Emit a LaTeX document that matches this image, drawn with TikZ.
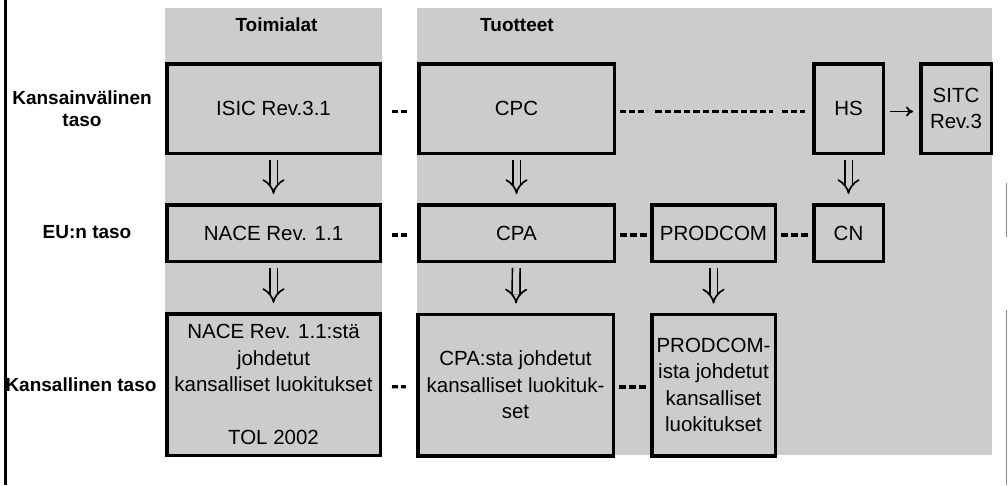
\documentclass[tikz,border=0pt]{standalone}
\usepackage{fontspec}
\setmainfont{Liberation Sans}
\usetikzlibrary{arrows.meta,positioning}

\begin{document}
\begin{tikzpicture}[x=1pt,y=-1pt,
		box/.style={draw,line width=3.5pt,fill=black!20,inner sep=0pt,align=center,font=\fontsize{20.5}{26.5}\selectfont},
		toprow/.style={minimum height=89.5pt},
		midrow/.style={minimum height=56.5pt},
		botrow/.style={minimum height=141.5pt},
		lbl/.style={align=center,font=\bfseries\fontsize{19}{22}\selectfont},
		dashes/.style={line width=3.2pt,dash pattern=on 6pt off 3pt},
		twodash/.style={dashes,shorten <=10pt,shorten >=10pt},
		threedash/.style={dashes,dash pattern=on 7pt off 3pt,shorten <=3.5pt,shorten >=3.5pt},
		dbl/.style={line width=1.7pt,double=black!20,double distance=6pt,-{Implies},shorten <=5pt,shorten >=9pt}]
		\useasboundingbox (0,0) rectangle (1008,485);
		% gray column backgrounds
		\fill[black!20] (165,8) rectangle (382,457);
		\fill[black!20] (417,8) rectangle (992,455);
		\draw[line width=3pt] (5,0) -- (5,485);
		\draw[black!45,line width=1.5pt] (1006.5,183) -- (1006.5,237);
		\draw[black!45,line width=1.5pt] (1006.5,310) -- (1006.5,485);
		% headers and levels
		\node[lbl] (toim) at (276.5,25) {Toimialat};
		\node[lbl] (tuot) at (517,25) {Tuotteet};
		\node[lbl] (intl) at (82,109) {Kansainvälinen\\taso};
		\node[lbl] (eu) at (87,232) {EU:n taso};
		\node[lbl] (natl) at (81,385) {Kansallinen taso};
		% classifications
		\node[box,toprow,minimum width=213.5pt] (isic) at (273.5,108.5) {ISIC Rev.3.1};
		\node[box,midrow,minimum width=213.5pt] (nace) at (273.5,233) {NACE Rev. 1.1};
		\node[box,botrow,minimum width=213.5pt] (tolbox) at (273.5,384.5) {NACE Rev. 1.1:stä\\johdetut\\kansalliset luokitukset\\[26.5pt]TOL 2002};
		\node[box,toprow,minimum width=195.5pt] (cpc) at (516.5,108.5) {CPC};
		\node[box,midrow,minimum width=195.5pt] (cpa) at (516.5,233) {CPA};
		\node[box,botrow,minimum width=195.5pt] (cpanat) at (515.5,385) {CPA:sta johdetut\\kansalliset luokituk-\\set};
		\node[box,midrow,minimum width=123.5pt] (prodcom) at (713.5,233) {PRODCOM};
		\node[box,botrow,minimum width=123.5pt] (prodnat) at (713.5,385) {PRODCOM-\\ista johdetut\\kansalliset\\luokitukset};
		\node[box,toprow,minimum width=69.5pt] (hs) at (848.5,108.5) {HS};
		\node[box,toprow,minimum width=70.5pt] (sitc) at (956,108.5) {SITC\\Rev.3};
		\node[box,midrow,minimum width=69.5pt] (cn) at (848.5,233) {CN};
		% links
		\draw[twodash] ([yshift=-3pt]isic.east) -- ([yshift=-3pt]cpc.west);
		\draw[dashes] ([xshift=4pt,yshift=-3pt]cpc.east) -- ([xshift=31pt,yshift=-3pt]cpc.east);
		\draw[dashes,dash pattern=on 6.5pt off 3pt] ([xshift=39pt,yshift=-3pt]cpc.east) -- ([xshift=-39pt,yshift=-3pt]hs.west);
		\draw[dashes] ([xshift=-30pt,yshift=-3pt]hs.west) -- ([xshift=-7pt,yshift=-3pt]hs.west);
		\draw[line width=1.8pt,-{To[length=7pt,width=10pt]},shorten <=5pt,shorten >=6pt] ([yshift=-3pt]hs.east) -- ([yshift=-3pt]sitc.west);
		\draw[twodash] ([yshift=-2pt]nace.east) -- ([yshift=-2pt]cpa.west);
		\draw[threedash] ([yshift=-2pt]cpa.east) -- ([yshift=-2pt]prodcom.west);
		\draw[threedash] ([yshift=-2pt]prodcom.east) -- ([yshift=-2pt]cn.west);
		\draw[twodash] ([yshift=-2pt]tolbox.east) -- ([yshift=-2pt]cpanat.west);
		\draw[threedash] ([yshift=-2pt]cpanat.east) -- ([yshift=-2pt]prodnat.west);
		% derivations
		\draw[dbl] (isic) -- (nace);
		\draw[dbl] (nace) -- (tolbox);
		\draw[dbl] (cpc) -- (cpa);
		\draw[dbl] (cpa) -- (cpanat);
		\draw[dbl] (prodcom) -- (prodnat);
		\draw[dbl] (hs) -- (cn);
		\end{tikzpicture}
\end{document}
